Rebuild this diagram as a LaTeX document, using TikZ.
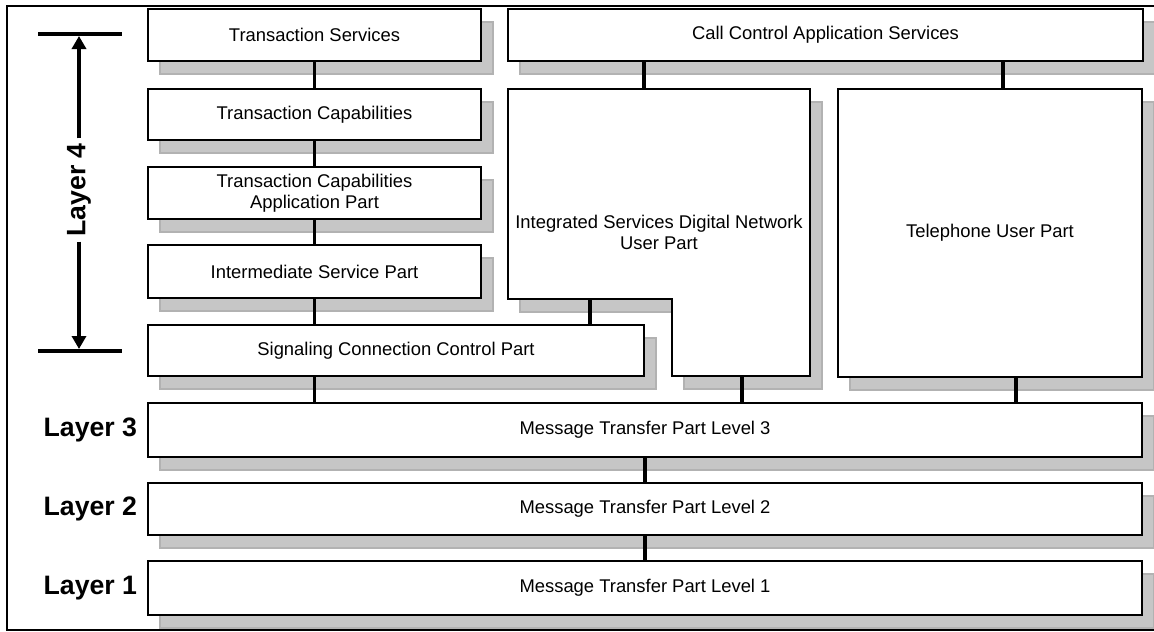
\documentclass[tikz,border=0pt]{standalone}
\usepackage{fontspec}
\setmainfont{Liberation Sans}
\usetikzlibrary{arrows.meta, positioning, shadows}
\definecolor{shadowfill}{RGB}{198,198,198}
\definecolor{shadowedge}{RGB}{178,178,178}
\tikzset{
  % Bloklar
  blockbox/.style    = {draw, line width=1.1pt, fill=white, inner sep=0pt, outer sep=0pt,
                        align=center, font=\fontsize{13.8pt}{15.8pt}\selectfont,
                        drop shadow={shadow xshift=9pt, shadow yshift=-9.75pt, opacity=1,
                                     fill=shadowfill, draw=shadowedge, line width=0.8pt}},
  leftcol/.style     = {blockbox, minimum width=249.75pt},
  mtpbox/.style      = {blockbox, minimum width=745.5pt},
  blockshadow/.style = {fill=shadowfill, draw=shadowedge, line width=0.8pt},
  blockline/.style   = {draw, line width=1.1pt, fill=white},
  blocktext/.style   = {align=center, font=\fontsize{13.8pt}{15.8pt}\selectfont},
  % Ulanishlar
  link/.style        = {line width=2.6pt},
  % Qatlam belgilari
  layerlab/.style    = {font=\fontsize{20pt}{24pt}\selectfont\bfseries, inner sep=0pt},
  layerbar/.style    = {line width=3pt},
  layerarrow/.style  = {line width=3pt, -{Triangle[length=9.75pt, width=10.5pt]}},
  frameline/.style   = {line width=1pt},
}
\begin{document}
\begin{tikzpicture}[x=0.75pt, y=-0.75pt]
  \useasboundingbox (0,0) rectangle (1154,632);
  \clip (0,0) rectangle (1154,632);
  \draw[frameline] (7,6) rectangle (1180,630);

  % Layer 4 bloklari
  \node[leftcol, minimum height=39pt] (ts) at (314.5,35) {Transaction Services};
  \node[leftcol, minimum height=38.25pt] (tc) at (314.5,114.5) {Transaction Capabilities};
  \node[leftcol, minimum height=39pt] (tcap) at (314.5,193) {Transaction Capabilities\\Application Part};
  \node[leftcol, minimum height=39.75pt] (isp) at (314.5,271.5) {Intermediate Service Part};
  \node[blockbox, minimum width=372pt, minimum height=38.25pt] (sccp) at (396,350.5)
    {Signaling Connection Control Part};
  \node[blockbox, minimum width=476.25pt, minimum height=39pt] (ccas) at (825.5,35)
    {Call Control Application Services};
  \node[blockbox, minimum width=228pt, minimum height=216pt] (tup) at (990,233)
    {Telephone User Part};

  % ISUP (L shakl)
  \path[blockshadow, shift={(12,13)}] (508,89) -- (810,89) -- (810,376) -- (672,376)
    -- (672,299) -- (508,299) -- cycle;
  \path[blockline] (508,89) -- (810,89) -- (810,376) -- (672,376)
    -- (672,299) -- (508,299) -- cycle;
  \node[blocktext] (isup) at (659,232) {Integrated Services Digital Network\\User Part};
  \coordinate (isupN) at (644,89);
  \coordinate (isupW) at (590,299);
  \coordinate (isupS) at (742,376);
  \coordinate (tupN) at (1003,89);
  \coordinate (tupS) at (1016,377);

  % MTP bloklari
  \node[mtpbox, minimum height=40.5pt] (mtp3) at (645,430) {Message Transfer Part Level 3};
  \node[mtpbox, minimum height=39pt] (mtp2) at (645,509) {Message Transfer Part Level 2};
  \node[mtpbox, minimum height=40.5pt] (mtp1) at (645,588) {Message Transfer Part Level 1};

  % Ulanishlar
  \draw[link] (ts) -- (tc);
  \draw[link] (tc) -- (tcap);
  \draw[link] (tcap) -- (isp);
  \draw[link] (isp.south) -- (isp.south |- sccp.north);
  \draw[link] (isp.south |- sccp.south) -- (isp.south |- mtp3.north);
  \draw[link] (isupN |- ccas.south) -- (isupN);
  \draw[link] (isupW) -- (isupW |- sccp.north);
  \draw[link] (isupS) -- (isupS |- mtp3.north);
  \draw[link] (tupN |- ccas.south) -- (tupN);
  \draw[link] (tupS) -- (tupS |- mtp3.north);
  \draw[link] (mtp3) -- (mtp2);
  \draw[link] (mtp2) -- (mtp1);

  % Qatlamlar
  \node[layerlab, left=8pt of mtp3.west] (lay3) {Layer 3};
  \node[layerlab, left=8pt of mtp2.west] (lay2) {Layer 2};
  \node[layerlab, left=8pt of mtp1.west] (lay1) {Layer 1};
  \node[layerlab, rotate=90, inner xsep=3.5pt] (lay4) at (79,190) {Layer 4};
  \coordinate (barTL) at (38,34);
  \coordinate (barTR) at (122,34);
  \coordinate (barBL) at (38,351);
  \coordinate (barBR) at (122,351);
  \coordinate (arrT) at (80,36);
  \coordinate (arrB) at (80,349);
  \draw[layerbar] (barTL) -- (barTR);
  \draw[layerbar] (barBL) -- (barBR);
  \draw[layerarrow] (lay4.east) -- (lay4.east |- arrT);
  \draw[layerarrow] (lay4.west) -- (lay4.west |- arrB);
\end{tikzpicture}
\end{document}
